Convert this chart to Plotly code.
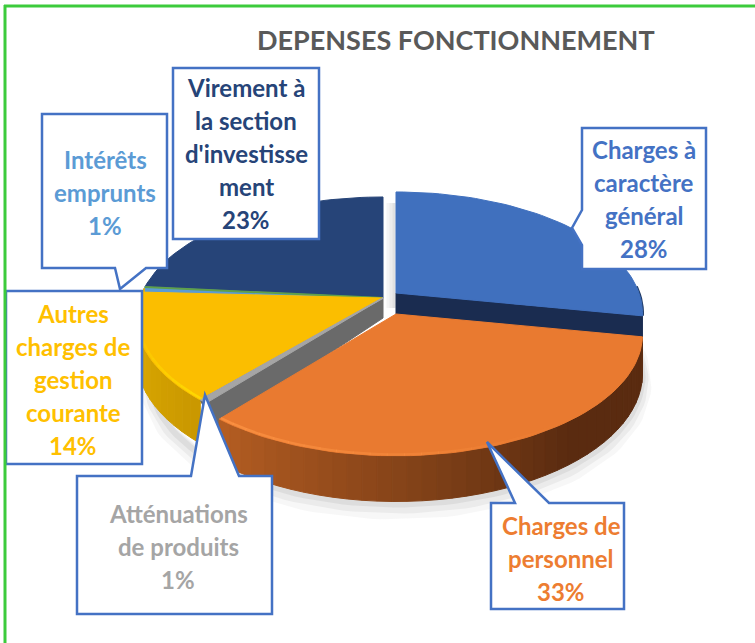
import math
import plotly.graph_objects as go

# ---- data ----
categories = ["Charges à caractère général", "Charges de personnel", "Atténuations de produits",
              "Autres charges de gestion courante", "Intérêts emprunts",
              "Virement à la section d'investissement"]
values = [28.0, 32.9, 0.5, 14.4, 0.7, 23.5]
percent_labels = ["28%", "33%", "1%", "14%", "1%", "23%"]
label_lines = [
    ["Charges à", "caractère", "général"],
    ["Charges de", "personnel"],
    ["Atténuations", "de produits"],
    ["Autres", "charges de", "gestion", "courante"],
    ["Intérêts", "emprunts"],
    ["Virement à", "la section", "d'investisse", "ment"],
]
top_colors = ["#4070BE", "#E97A30", "#A5A5A5", "#FBBE00", "#5B9BD5", "#264478"]
text_colors = ["#4472C4", "#ED7D31", "#A5A5A5", "#FFC000", "#5B9BD5", "#264478"]
title = "DEPENSES FONCTIONNEMENT"

# ---- layout of the drawing (pixel space axes) ----
W, H_PX = 755, 643
R, H, K, DEPTH = 243, 118, 0.168, 38
APEX = [(396, 293), (396, 314), (383, 298), (383, 298), (383, 298), (383, 298)]

total = sum(values)
edges = [0]
for v in values:
    edges.append(edges[-1] + v / total * 360)


def proj(deg, apex, r=1.0, drop=0.0):
    t = math.radians(deg)
    u, v = math.sin(t) * r, math.cos(t) * r
    s = 1 / (1 + K * v)
    return apex[0] + R * u * s, apex[1] - H * v * s + drop * s


def arc(a, b, apex, r=1.0, drop=0.0, step=2.0):
    n = max(2, int(abs(b - a) / step) + 1)
    return [proj(a + (b - a) * i / (n - 1), apex, r, drop) for i in range(n)]


fig = go.Figure()


def poly(pts, color, line=None):
    fig.add_trace(go.Scatter(x=[p[0] for p in pts] + [pts[0][0]], y=[p[1] for p in pts] + [pts[0][1]],
                             mode="lines", fill="toself", fillcolor=color,
                             line=dict(color=line or color, width=1),
                             hoverinfo="skip", showlegend=False))


def stroke(pts, color, width):
    fig.add_trace(go.Scatter(x=[p[0] for p in pts], y=[p[1] for p in pts], mode="lines",
                             line=dict(color=color, width=width), hoverinfo="skip", showlegend=False))


def mix(c1, c2, t):
    t = min(1.0, t)
    a = [int(c1[i:i + 2], 16) for i in (1, 3, 5)]
    b = [int(c2[i:i + 2], 16) for i in (1, 3, 5)]
    return "rgb(%d,%d,%d)" % tuple(round(a[i] + (b[i] - a[i]) * t) for i in range(3))


def wall(idx, a, b, c_a, c_b, strips=36, reach=1.0):
    ap = APEX[idx]
    for i in range(strips):
        a0 = a + (b - a) * i / strips
        a1 = a + (b - a) * (i + 1) / strips
        top_pts = arc(a0, a1, ap, step=1)
        bot = arc(a1, a0, ap, drop=DEPTH, step=1)
        poly(top_pts + bot, mix(c_a, c_b, (i + 0.5) / strips / reach))


def top(idx):
    ap = APEX[idx]
    poly([ap] + arc(edges[idx], edges[idx + 1], ap), top_colors[idx])


# soft shadow under the front of the pie
for grow, alpha in ((9, 0.05), (6, 0.07), (3, 0.09)):
    stroke([(x, y + grow) for x, y in arc(edges[1] - 25, edges[4] - 10, APEX[1], r=1.0, drop=DEPTH)],
           "rgba(90,90,90,%.2f)" % alpha, grow * 2)
# shadow in the gap behind the blue slice
for off, alpha in ((2, 0.22), (5, 0.14), (8, 0.07)):
    stroke([(APEX[0][0] - off, APEX[0][1] + 15), (APEX[0][0] - off, APEX[0][1] - 90)],
           "rgba(120,120,120,%.2f)" % alpha, 3)

# back slices
top(5)
top(4)
stroke([APEX[4], proj(edges[5], APEX[4])], "#5FA04A", 2)
# yellow wall and top
wall(3, edges[3], edges[4] + 2, "#C99700", "#E6B400", strips=18)
top(3)
# grey cut wall
ga = proj(edges[3], APEX[3])
poly([ga, APEX[3], (APEX[3][0], APEX[3][1] + 20), (ga[0] + 14, ga[1] + 30)], "#6A6A6A")
top(2)
stroke([APEX[3], ga], "#A5A5A5", 1.5)
# blue wall and top
be = proj(edges[1], APEX[0])
poly([APEX[0], be, proj(edges[1], APEX[0], drop=26), (APEX[0][0], APEX[0][1] + 22)], "#1A2C50")
stroke(arc(edges[1] - 14, edges[1], APEX[0]), "#1F3A66", 3)
top(0)
# orange wall and top
wall(1, edges[2], edges[1], "#B55E22", "#5A2B10", strips=40, reach=0.65)
top(1)
# rim highlights
for i in range(22):
    a0 = edges[2] - i * 3.4
    stroke(arc(a0, a0 - 3.6, APEX[1], r=0.992), "rgba(255,150,70,%.2f)" % (0.7 * (1 - i / 22)), 2.5)
for i in range(10):
    a0 = edges[3] + i * 3.4
    stroke(arc(a0, a0 + 3.6, APEX[3], r=0.992), "rgba(255,225,0,%.2f)" % (0.7 * (1 - i / 10)), 2.5)

# ---- callouts ----
BORDER = "#4472C4"
callouts = [
    "M582,128 L706,128 L706,269 L582,269 L582,245 L572,228 L582,210 Z",
    "M491,503 L515,503 L487,442 L549,503 L624,503 L624,609 L491,609 Z",
    "M77,476 L191,476 L205,395 L239,476 L272,476 L272,614 L77,614 Z",
    "M6,291 L142,291 L142,464 L6,464 Z",
    "M42,114 L167,114 L167,268 L146,268 L120,289 L115,268 L42,268 Z",
    "M173,68 L319,68 L319,239 L173,239 Z",
]
shapes = [dict(type="path", path=p, xref="x", yref="y", fillcolor="white",
               line=dict(color=BORDER, width=2.5), layer="above") for p in callouts]
# outer green frame
shapes += [
    dict(type="line", x0=5, x1=5, y0=5, y1=643, xref="x", yref="y", line=dict(color="#3CCB3C", width=3), layer="above"),
    dict(type="line", x0=4, x1=755, y0=6, y1=6, xref="x", yref="y", line=dict(color="#3CCB3C", width=3), layer="above"),
]

# ---- label text: one annotation per line for the chart's line pitch ----
centers = [(644, 149), (561, 525), (178, 513), (73, 313), (105, 159), (246, 87)]
PITCH = 33
annotations = []
for i, lines in enumerate(label_lines):
    cx, cy = centers[i]
    for j, txt in enumerate(lines + [percent_labels[i]]):
        annotations.append(dict(x=cx, y=cy + j * PITCH, text=txt, xref="x", yref="y", showarrow=False,
                                xanchor="center", yanchor="middle",
                                font=dict(family="Lato", size=24, color=text_colors[i], weight="bold")))
annotations.append(dict(x=456, y=39, text=title, xref="x", yref="y", showarrow=False,
                        xanchor="center", yanchor="middle",
                        font=dict(family="Lato", size=27, color="#595959", weight="bold")))

fig.update_layout(
    width=W, height=H_PX, margin=dict(l=0, r=0, t=0, b=0), autosize=False,
    paper_bgcolor="white", plot_bgcolor="white", showlegend=False,
    xaxis=dict(range=[0, W], visible=False, fixedrange=True),
    yaxis=dict(range=[H_PX, 0], visible=False, fixedrange=True),
    shapes=shapes, annotations=annotations,
)
fig.write_html("out.html", config={"displayModeBar": False},
               post_script="document.body.style.margin='0';document.documentElement.style.overflow='hidden';")
